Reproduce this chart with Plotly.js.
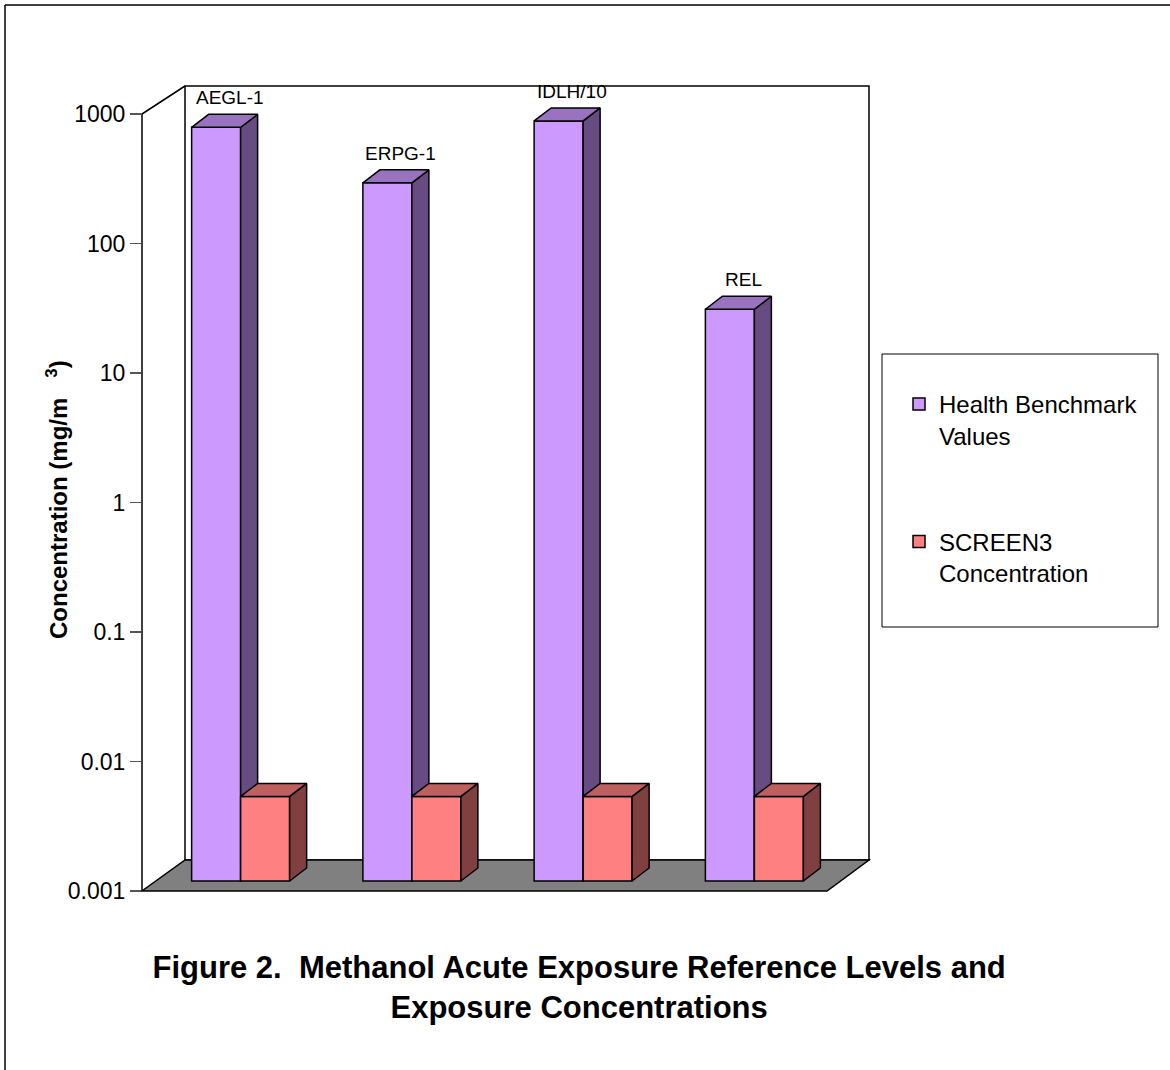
<!DOCTYPE html>
<html><head><meta charset="utf-8">
<script src="https://cdn.plot.ly/plotly-3.0.1.min.js"></script>
<style>html,body{margin:0;padding:0;background:#fff}</style>
</head><body><div id="chart" style="width:1170px;height:1070px"></div>
<script>
// ---- data ----
const categories = ['AEGL-1', 'ERPG-1', 'IDLH/10', 'REL'];
const benchmarkValues = [660, 246, 740, 26];
const screen3Values = [0.0045, 0.0045, 0.0045, 0.0045];
const seriesNames = ['Health Benchmark<br>Values', 'SCREEN3<br>Concentration'];
const tickVals = [0.001, 0.01, 0.1, 1, 10, 100, 1000];
const tickText = ['0.001', '0.01', '0.1', '1', '10', '100', '1000'];

// ---- geometry / style ----
const W = 1170, H = 1070;
const M = {l: 142, r: 301, t: 86, b: 179};
const PW = W - M.l - M.r, PH = H - M.t - M.b;
const DEC_PX = 129.5;         // pixels per decade
const CAT_PX = 171.25;        // pixels per category
const Y_MIN = -3, yTop = Y_MIN + PH / DEC_PX;
const X_MIN = -0.5, xTop = X_MIN + PW / CAT_PX;
const FLOOR_DX = 43, FLOOR_DY = 31;
const BAR_DX = 13, BAR_DY = 10;            // front plane of bars
const DEPTH_DX = 17, DEPTH_DY = 13;        // bar depth
const BAR_W = 49 / CAT_PX;
const BASE = 0.001;
const ddx = DEPTH_DX / CAT_PX, kk = Math.pow(10, DEPTH_DY / DEC_PX);
const FONT = 'Liberation Sans, Arial, sans-serif';
const idx = categories.map((c, i) => i);

function faces(vals, off) {
  const side = {x: [], y: []}, top = {x: [], y: []};
  vals.forEach((v, i) => {
    const x0 = i + off, x1 = x0 + BAR_W;
    side.x.push(x1, x1, x1 + ddx, x1 + ddx, x1, null);
    side.y.push(BASE, v, v * kk, BASE * kk, BASE, null);
    top.x.push(x0, x1, x1 + ddx, x0 + ddx, x0, null);
    top.y.push(v, v, v * kk, v * kk, v, null);
  });
  return {side, top};
}
function seriesTraces(vals, off, name, front, sideC, topC, xa, ya, grp) {
  const f = faces(vals, off);
  return [
    {type: 'bar', x: idx, y: vals.map(v => v - BASE), base: BASE, width: BAR_W, offset: off,
     marker: {color: front, line: {color: '#000', width: 1.5}}, name: name,
     legendgroup: grp, xaxis: xa, yaxis: ya, hoverinfo: 'skip'},
    {type: 'scatter', mode: 'lines', x: f.side.x, y: f.side.y, fill: 'toself', fillcolor: sideC,
     line: {color: '#000', width: 1.5}, showlegend: false, xaxis: xa, yaxis: ya, hoverinfo: 'skip'},
    {type: 'scatter', mode: 'lines', x: f.top.x, y: f.top.y, fill: 'toself', fillcolor: topC,
     line: {color: '#000', width: 1.5}, showlegend: false, xaxis: xa, yaxis: ya, hoverinfo: 'skip'}
  ];
}

// an empty trace on the front-plane axes so that the value axis is drawn
const axisTrace = {type: 'scatter', mode: 'lines', x: [], y: [], xaxis: 'x', yaxis: 'y',
                   showlegend: false, hoverinfo: 'skip'};

const traces = [axisTrace].concat(
  seriesTraces(benchmarkValues, -BAR_W, seriesNames[0], '#CC99FF', '#664C80', '#9973BF', 'x2', 'y2', 'g1'),
  seriesTraces(screen3Values, 0, seriesNames[1], '#FF8080', '#804040', '#BF6060', 'x3', 'y3', 'g2')
);

const xShift = BAR_DX / CAT_PX, yShift = BAR_DY / DEC_PX;
const hidden = {showgrid: false, zeroline: false, showline: false, showticklabels: false, ticks: ''};
const barX = Object.assign({overlaying: 'x', range: [X_MIN - xShift, xTop - xShift]}, hidden);
const barY = Object.assign({overlaying: 'y', type: 'log', range: [Y_MIN - yShift, yTop - yShift]}, hidden);

const px = x => x / PW, py = y => y / PH;
const y1000 = py(6 * DEC_PX);

const annotations = categories.map((c, i) => ({
  xref: 'x2', yref: 'y2', x: i - BAR_W / 2 + ddx / 2, xshift: 5,
  y: Math.log10(benchmarkValues[i] * kk), yshift: 4, yanchor: 'bottom',
  text: c, showarrow: false, font: {family: FONT, size: 19, color: '#000'}
}));
annotations.push({
  xref: 'paper', yref: 'paper', x: px(40 - M.l), y: py(891 - 500), textangle: -90,
  text: '<b>Concentration (mg/m&nbsp;&nbsp;&nbsp;<sup>3</sup>)</b>', showarrow: false,
  font: {family: FONT, size: 24, color: '#000'}
});

const layout = {
  width: W, height: H, margin: M, paper_bgcolor: '#fff', plot_bgcolor: 'rgba(0,0,0,0)',
  showlegend: true, hovermode: false,
  title: {text: '<b>Figure 2.&nbsp; Methanol Acute Exposure Reference Levels and</b><br><b>Exposure Concentrations</b>',
          font: {family: FONT, size: 31, color: '#000'}, x: 0.495, xref: 'container', xanchor: 'center',
          y: 1 - 978 / H, yref: 'container', yanchor: 'top'},
  xaxis: Object.assign({range: [X_MIN, xTop]}, hidden),
  yaxis: {type: 'log', range: [Y_MIN, yTop], tickvals: tickVals, ticktext: tickText, ticks: 'outside',
          ticklen: 11, tickwidth: 1.5, tickcolor: '#555', showline: false, showgrid: false, zeroline: false,
          showticklabels: true, tickfont: {family: FONT, size: 23, color: '#000'}},
  xaxis2: barX, yaxis2: barY,
  xaxis3: Object.assign({}, barX), yaxis3: Object.assign({}, barY),
  barmode: 'overlay',
  legend: {x: px(899 - M.l), y: py(891 - 382), xanchor: 'left', yanchor: 'top', xref: 'paper', yref: 'paper',
           font: {family: FONT, size: 24, color: '#000'}, bgcolor: 'rgba(0,0,0,0)', borderwidth: 0,
           valign: 'top', tracegroupgap: 72, traceorder: 'grouped'},
  annotations: annotations,
  shapes: [
    {type: 'line', xref: 'paper', yref: 'paper', x0: px(5 - M.l), x1: px(5 - M.l), y0: py(891 - H), y1: py(891 - 5),
     line: {color: '#000', width: 1.5}},
    {type: 'line', xref: 'paper', yref: 'paper', x0: px(5 - M.l), x1: px(W - M.l), y0: py(891 - 5), y1: py(891 - 5),
     line: {color: '#000', width: 1.5}},
    {type: 'rect', xref: 'paper', yref: 'paper', x0: px(FLOOR_DX), x1: 1, y0: py(FLOOR_DY), y1: 1,
     line: {color: '#000', width: 1.5}, fillcolor: '#fff', layer: 'below'},
    {type: 'path', xref: 'paper', yref: 'paper', layer: 'below',
     path: `M 0,0 L ${px(4 * CAT_PX)},0 L 1,${py(FLOOR_DY)} L ${px(FLOOR_DX)},${py(FLOOR_DY)} Z`,
     fillcolor: '#808080', line: {color: '#000', width: 1.5}},
    {type: 'path', xref: 'paper', yref: 'paper', layer: 'below',
     path: `M 0,0 L 0,${y1000} L ${px(FLOOR_DX)},1`, line: {color: '#000', width: 1.5}},
    {type: 'rect', xref: 'paper', yref: 'paper', x0: px(882 - M.l), x1: px(1158 - M.l),
     y0: py(891 - 627), y1: py(891 - 354), line: {color: '#000', width: 1}, fillcolor: 'rgba(0,0,0,0)'}
  ]
};

Plotly.newPlot('chart', traces, layout, {displayModeBar: false, staticPlot: true});
</script>
</body></html>
